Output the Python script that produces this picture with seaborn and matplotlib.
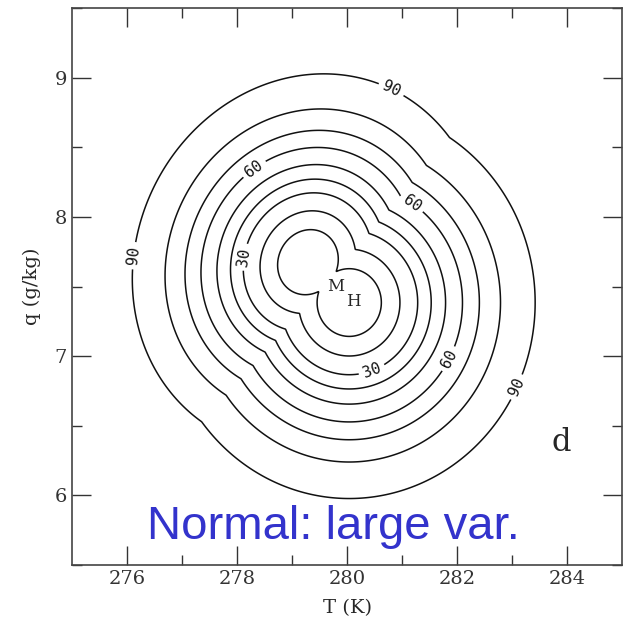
import numpy as np
import matplotlib
matplotlib.use("Agg")
import matplotlib.pyplot as plt
import seaborn as sns

# ---- data: two lobes of the distribution (M and H) ----
lobe_names = ["M", "H"]
center_T = [279.29, 280.04]      # K
center_q = [7.675, 7.385]        # g/kg
sigma_T = [1.45, 1.535]          # K
sigma_q = [0.615, 0.640]         # g/kg
rho = [0.09, 0.0]                # T-q correlation of each lobe
# contour radii (in sigma units), per enclosed percent
mass_levels = [10, 20, 30, 40, 50, 60, 70, 80, 90]
level_radius = [0.38, 0.60, 0.81, 0.97, 1.14, 1.34, 1.54, 1.79, 2.20]
labelled_levels = [30, 60, 90]

x_ticks = [276, 278, 280, 282, 284]
y_ticks = [6, 7, 8, 9]

sns.set_theme(style="ticks")
plt.rcParams["font.family"] = ["DejaVu Serif"]

fig = plt.figure(figsize=(6.35, 6.27), dpi=100)
ax = fig.add_axes([0.113, 0.099, 0.867, 0.888])

T = np.linspace(275, 285, 1001)
Q = np.linspace(5.5, 9.5, 801)
TT, QQ = np.meshgrid(T, Q)
dist = np.full_like(TT, np.inf)
for ct, cq, st, sq, r in zip(center_T, center_q, sigma_T, sigma_q, rho):
    x = (TT - ct) / st
    y = (QQ - cq) / sq
    d = np.sqrt((x ** 2 - 2 * r * x * y + y ** 2) / (1 - r ** 2))
    dist = np.minimum(dist, d)

rad_of = dict(zip(mass_levels, level_radius))
plain = [rad_of[p] for p in mass_levels if p not in labelled_levels]
lab = [rad_of[p] for p in labelled_levels]
pct_of = {r: p for p, r in rad_of.items()}


def fmt(v):
    key = min(pct_of, key=lambda k: abs(k - v))
    return f"{pct_of[key]}"


ax.contour(TT, QQ, dist, levels=plain, colors="#111111", linewidths=1.1)
cs = ax.contour(TT, QQ, dist, levels=lab, colors="#111111", linewidths=1.1)

manual = [(280.82, 8.93), (276.16, 7.72), (283.07, 6.78),
          (278.27, 8.37), (281.22, 8.12), (281.85, 6.98),
          (278.16, 7.71), (280.44, 6.91)]
texts = ax.clabel(cs, inline=True, inline_spacing=4, fontsize=11,
                  fmt=fmt, manual=manual)
for t in texts:
    t.set_fontfamily("DejaVu Sans Mono")

ax.text(279.8, 7.50, "M", fontsize=12, ha="center", va="center")
ax.text(280.11, 7.39, "H", fontsize=12, ha="center", va="center")
ax.text(283.9, 6.38, "d", fontsize=22, ha="center", va="center")
ax.text(279.75, 5.77, "Normal: large var.", fontsize=34, color="#3333cc",
        ha="center", va="center", family="Liberation Sans")

ax.set_xlim(275, 285)
ax.set_ylim(5.5, 9.5)
ax.set_xticks(x_ticks)
ax.set_yticks(y_ticks)
ax.set_xticks(np.arange(277, 285, 2), minor=True)
ax.set_yticks(np.arange(5.5, 9.6, 1.0), minor=True)
ax.tick_params(which="both", direction="in", top=True, right=True,
               labelsize=14, colors="#333333")
ax.tick_params(which="major", length=14, width=1.0)
ax.tick_params(which="minor", length=7, width=1.0)
for s in ax.spines.values():
    s.set_linewidth(1.2)
    s.set_color("#444444")
ax.set_xlabel("T (K)", fontsize=14, labelpad=8)
ax.set_ylabel("q (g/kg)", fontsize=14, labelpad=10)

fig.savefig("out.png", dpi=100)
